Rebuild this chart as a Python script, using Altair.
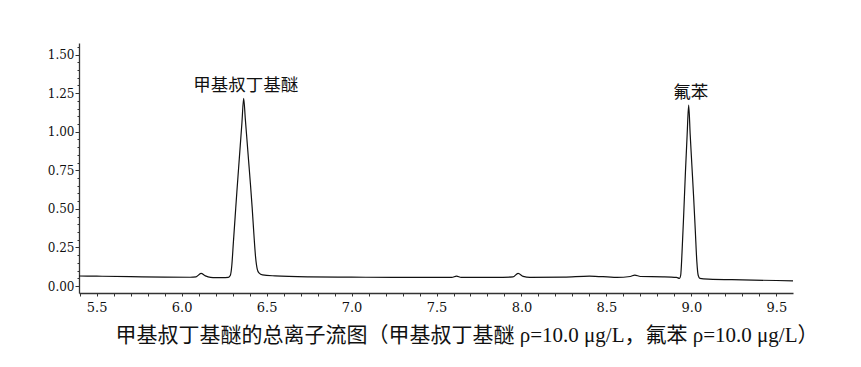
import altair as alt
import pandas as pd

# Retention time (min) and total ion current
time_min = [5.396, 5.5, 5.7, 5.9, 6.05, 6.085, 6.114, 6.14, 6.17, 6.2, 6.25, 6.275,
            6.287, 6.295, 6.305, 6.315, 6.325, 6.335, 6.345, 6.355, 6.365, 6.375,
            6.385, 6.395, 6.405, 6.415, 6.425, 6.435, 6.445, 6.455, 6.476, 6.55,
            6.75, 7.0, 7.25, 7.5, 7.59, 7.618, 7.645, 7.85, 7.95, 7.98, 8.01, 8.05,
            8.25, 8.40, 8.56, 8.64, 8.667, 8.7, 8.833, 8.912, 8.93, 8.937, 8.945,
            8.955, 8.965, 8.975, 8.984, 8.993, 9.003, 9.013, 9.023, 9.032, 9.04,
            9.05, 9.1, 9.3, 9.598]
intensity = [0.065, 0.064, 0.061, 0.058, 0.057, 0.060, 0.082, 0.066, 0.056, 0.054, 0.055, 0.056,
             0.07, 0.13, 0.29, 0.45, 0.61, 0.76, 0.91, 1.06, 1.216, 1.08,
             0.94, 0.80, 0.66, 0.51, 0.34, 0.19, 0.11, 0.085, 0.072, 0.066,
             0.060, 0.058, 0.056, 0.056, 0.056, 0.065, 0.056, 0.056, 0.059, 0.082, 0.063, 0.056,
             0.058, 0.065, 0.056, 0.062, 0.071, 0.062, 0.060, 0.056, 0.050, 0.07, 0.22,
             0.47, 0.74, 0.98, 1.172, 0.98, 0.78, 0.58, 0.36, 0.16, 0.07,
             0.050, 0.045, 0.040, 0.034]

peak_names = ["甲基叔丁基醚", "氟苯"]
peak_time = [6.365, 8.984]
peak_height = [1.216, 1.172]

x_ticks = [5.4, 5.5, 5.6, 5.7, 5.8, 5.9, 6.0, 6.1, 6.2, 6.3, 6.4, 6.5, 6.6, 6.7, 6.8, 6.9,
           7.0, 7.1, 7.2, 7.3, 7.4, 7.5, 7.6, 7.7, 7.8, 7.9, 8.0, 8.1, 8.2, 8.3, 8.4, 8.5,
           8.6, 8.7, 8.8, 8.9, 9.0, 9.1, 9.2, 9.3, 9.4, 9.5, 9.6]
y_ticks = [0.0, 0.05, 0.1, 0.15, 0.2, 0.25, 0.3, 0.35, 0.4, 0.45, 0.5, 0.55, 0.6, 0.65,
           0.7, 0.75, 0.8, 0.85, 0.9, 0.95, 1.0, 1.05, 1.1, 1.15, 1.2, 1.25, 1.3, 1.35,
           1.4, 1.45, 1.5, 1.55]

title_text = "甲基叔丁基醚的总离子流图（甲基叔丁基醚 ρ=10.0 μg/L，氟苯 ρ=10.0 μg/L）"

df = pd.DataFrame({"t": time_min, "v": intensity})
peaks = pd.DataFrame({"name": peak_names, "t": peak_time, "v": peak_height})

x_scale = alt.Scale(domain=[5.396, 9.598], nice=False, zero=False)
y_scale = alt.Scale(domain=[-0.045, 1.575], nice=False, zero=False)

x_major = "abs(datum.value*2 - round(datum.value*2)) < 0.001"
y_major = "abs(datum.value*4 - round(datum.value*4)) < 0.001"

x_axis = alt.Axis(
    values=x_ticks, title=None, grid=False,
    labelExpr=x_major + " ? format(datum.value, '.1f') : ''",
    labelOverlap=False, labelFlush=False, labelBound=False,
    labelFont="DejaVu Serif", labelFontSize=13, labelColor="#111",
    tickSize=3, tickColor="#333", tickWidth=1,
    domainColor="#333", domainWidth=1.3, labelPadding=5,
)
y_axis = alt.Axis(
    values=y_ticks, title=None, grid=False,
    labelExpr=y_major + " ? format(datum.value, '.2f') : ''",
    labelOverlap=False, labelFlush=False, labelBound=False,
    labelFont="DejaVu Serif", labelFontSize=12, labelColor="#111",
    tickSize={"condition": {"test": y_major, "value": 4}, "value": 2},
    tickColor="#333", tickWidth=1,
    domainColor="#333", domainWidth=1.3, labelPadding=1,
)

line = alt.Chart(df).mark_line(color="#111", strokeWidth=1.2, interpolate="monotone").encode(
    x=alt.X("t:Q", scale=x_scale, axis=x_axis),
    y=alt.Y("v:Q", scale=y_scale, axis=y_axis),
)

labels = alt.Chart(peaks).mark_text(
    font="Noto Sans CJK SC", fontSize=17.5, color="#111", baseline="middle", dy=-12, dx=2
).encode(
    x=alt.X("t:Q", scale=x_scale, axis=x_axis),
    y=alt.Y("v:Q", scale=y_scale, axis=y_axis),
    text="name:N",
)

chart = alt.layer(line, labels).properties(
    width=714, height=250,
    autosize=alt.AutoSizeParams(type="none"),
    padding={"left": 71, "top": 35, "right": 50, "bottom": 60},
    title=alt.TitleParams(
        text=title_text, orient="bottom", anchor="middle",
        font="Liberation Serif, Noto Sans CJK SC", fontSize=21, fontWeight="normal",
        color="#111", offset=11, dx=31,
    ),
).configure_view(stroke=None).configure_axis(labelOverlap=False)

chart.save("out.html", embed_options={"renderer": "svg", "actions": False})
